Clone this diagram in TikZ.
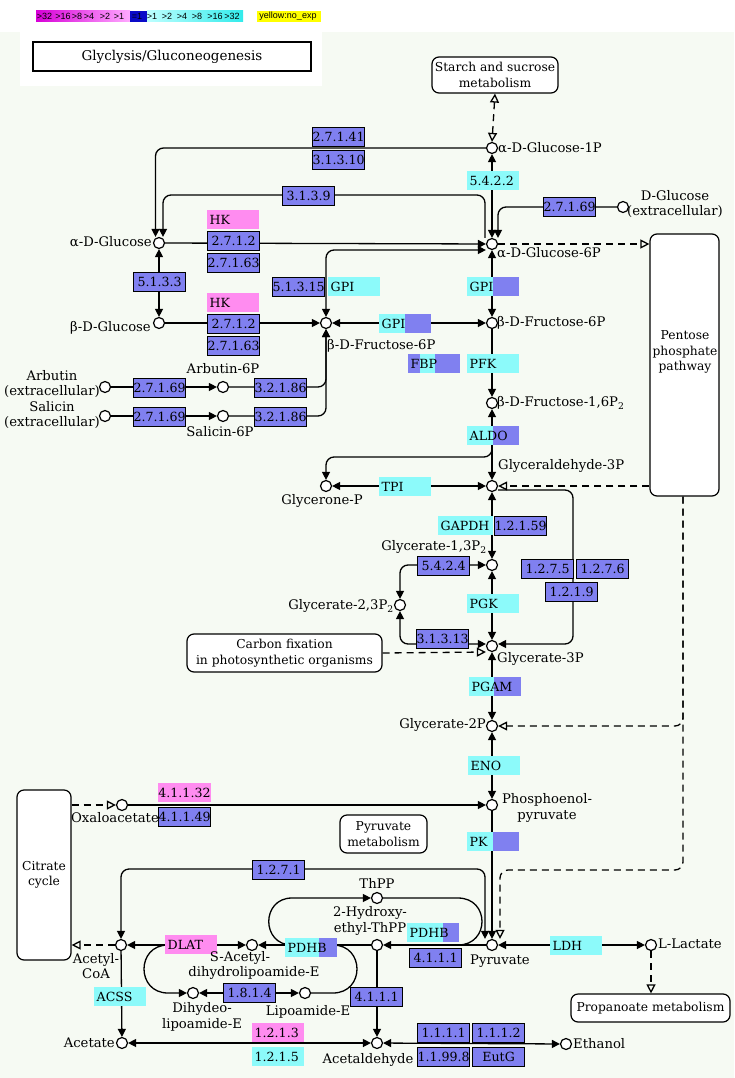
\documentclass[tikz,border=0pt]{standalone}
\usepackage{fontspec}
\setmainfont{DejaVu Serif}
\newfontfamily\legfont{Liberation Sans}
\usetikzlibrary{arrows.meta}
\definecolor{kblue}{RGB}{128,128,240}
\definecolor{kcyan}{RGB}{140,250,250}
\definecolor{kpink}{RGB}{255,140,240}
\definecolor{kbg}{RGB}{246,250,243}
\definecolor{legm1}{RGB}{215,0,215}
\definecolor{legm2}{RGB}{255,170,255}
\definecolor{legdb}{RGB}{10,10,200}
\definecolor{legc1}{RGB}{190,255,255}
\definecolor{legc2}{RGB}{50,235,235}
\definecolor{kyellow}{RGB}{255,255,0}
\newcommand\cfont{\fontsize{13.2}{15.8}\selectfont}
\newcommand\mfont{\fontsize{12.3}{15.5}\selectfont}
\newcommand\efont{\fontsize{12.6}{14}\selectfont}
\newcommand\tfont{\fontsize{13.5}{16}\selectfont}
\tikzset{
  ktip/.tip={Triangle[length=8pt,width=8pt]},
  otip/.tip={Triangle[open,length=9pt,width=9pt]},
  rxn/.style={line width=1.3pt, rounded corners=8pt},
  crv/.style={line width=1.3pt},
  dsh/.style={line width=1.3pt, dash pattern=on 7pt off 5pt, rounded corners=8pt},
  cpd/.style={circle, draw, fill=white, line width=1.2pt, minimum size=11pt, inner sep=0pt},
  enz/.style={draw, fill=kblue, line width=1.2pt, minimum width=52pt, minimum height=19pt, inner sep=0pt, anchor=north west, font=\efont},
  gtxt/.style={anchor=west, inner xsep=2.5pt, inner ysep=0pt, font=\efont},
  lbl/.style={inner sep=0pt, font=\cfont},
  map/.style={draw, rounded corners=7pt, line width=1.2pt, fill=white, align=center, font=\mfont, inner sep=0pt},
  legt/.style={inner sep=0pt, font=\legfont\fontsize{9}{10}\selectfont},
}
\newcommand\kebox[4]{\node[enz] (#1) at (#2,#3) {#4};}
\newcommand\kgbox[5]{\fill[#4] (#2,#3) rectangle ++(52,19); \node[gtxt] (#1) at (#2,#3+9.5) {#5};}
\newcommand\kgsplit[5]{\fill[kcyan] (#2,#3) rectangle ++(#4,19); \fill[kblue] (#2+#4,#3) rectangle (#2+52,#3+19); \node[gtxt] (#1) at (#2,#3+9.5) {#5};}
\begin{document}
\begin{tikzpicture}[x=1pt,y=-1pt]
\useasboundingbox (0,0) rectangle (734,1078);
\fill[kbg] (0,32) rectangle (734,1078);
\fill[white] (20,32) rectangle (322,86);
% legend
\shade[left color=legm1, right color=legm2] (36,11) rectangle (130,22);
\fill[legdb] (130,11) rectangle (147,22);
\shade[left color=legc1, right color=legc2] (147,11) rectangle (243,22);
\fill[kyellow] (257,11) rectangle (321,22);
\foreach \t/\x [count=\i] in {>32/44.5,>16/63,>8/77,>4/89,>2/105,>1/119,=1/137,>1/152,>2/167,>4/182,>8/197,>16/215,>32/232}
  \node[legt] (lg\i) at (\x,16.5) {\t};
\node[legt] (lgy) at (288,16.5) {yellow:no\_exp};
% title
\node[draw, line width=1.2pt, minimum width=278pt, minimum height=29pt, inner sep=0pt, font=\tfont] (title) at (172,56.5) {Glyclysis/Gluconeogenesis};
% maps
\node[map, minimum width=126pt, minimum height=36pt] (m_starch) at (495,75) {Starch and sucrose\\metabolism};
\node[map, minimum width=69pt, minimum height=262pt] (m_ppp) at (684.5,365) {};
\node[lbl, align=center, font=\mfont] (t_ppp) at (685,352) {Pentose\\phosphate\\pathway};
\node[map, minimum width=195pt, minimum height=38pt] (m_carbon) at (284.5,653) {Carbon fixation\\in photosynthetic organisms};
\node[map, minimum width=54pt, minimum height=170pt] (m_citrate) at (44,875) {Citrate\\cycle};
\node[map, minimum width=87pt, minimum height=38pt] (m_pyrmet) at (383.5,834) {Pyruvate\\metabolism};
\node[map, minimum width=159pt, minimum height=28pt] (m_propan) at (650.5,1008) {Propanoate metabolism};
% compounds
\node[cpd] (c_g1p) at (492,148) {};
\node[cpd] (c_g6p) at (492,244) {};
\node[cpd] (c_dglc) at (623,207) {};
\node[cpd] (c_aglc) at (159,243) {};
\node[cpd] (c_bglc) at (159,323) {};
\node[cpd] (c_bf6pL) at (326,323) {};
\node[cpd] (c_bf6p) at (492,323) {};
\node[cpd] (c_fbp) at (492,403) {};
\node[cpd] (c_g3p) at (492,486) {};
\node[cpd] (c_dhap) at (326,486) {};
\node[cpd] (c_13bpg) at (492,565) {};
\node[cpd] (c_23bpg) at (400,605) {};
\node[cpd] (c_3pg) at (492,646) {};
\node[cpd] (c_2pg) at (492,726) {};
\node[cpd] (c_pep) at (492,805) {};
\node[cpd] (c_pyr) at (492,945) {};
\node[cpd] (c_oaa) at (122,805) {};
\node[cpd] (c_accoa) at (121,945) {};
\node[cpd] (c_sacetyl) at (252,945) {};
\node[cpd] (c_hethpp) at (377,945) {};
\node[cpd] (c_thpp) at (377,898) {};
\node[cpd] (c_dihydro) at (193,993) {};
\node[cpd] (c_lipo) at (305,993) {};
\node[cpd] (c_acetate) at (122,1043) {};
\node[cpd] (c_acald) at (377,1043) {};
\node[cpd] (c_ethanol) at (566,1044) {};
\node[cpd] (c_lac) at (651,945) {};
\node[cpd] (c_arb) at (105,387) {};
\node[cpd] (c_arb6p) at (223,387) {};
\node[cpd] (c_sal) at (105,416) {};
\node[cpd] (c_sal6p) at (223,416) {};
% helper coordinates
\coordinate (k3139) at (163,195);
\coordinate (kfbp) at (435,367);
\coordinate (aldobr) at (492,445);
\coordinate (k573) at (573,560);
\coordinate (kppp) at (683,870);
\coordinate (k1271) at (485,869);
\coordinate (kl1) at (292,945);
\coordinate (kr1) at (458,945);
\coordinate (kl2) at (168,945);
\coordinate (kr2) at (333,945);
% connectors
\draw[dsh,otip-otip] (m_starch.south) -- (c_g1p.north);
\draw[rxn,ktip-ktip] (c_g1p) -- (c_g6p);
\draw[rxn,-ktip] (c_dglc.west) -| ([xshift=6pt]c_g6p.north);
\draw[rxn,-ktip] (c_g1p.west) -| ([xshift=-3.5pt]c_aglc.north);
\draw[rxn,-ktip] ([xshift=-7pt]c_g6p.north) |- (k3139) -- ([xshift=4pt]c_aglc.north);
\draw[rxn,-ktip] (c_aglc) -- (c_g6p);
\draw[rxn,ktip-ktip] (c_bf6pL.north) |- ([yshift=-6pt]c_g6p.west);
\draw[rxn,ktip-ktip] (c_aglc) -- (c_bglc);
\draw[rxn,-ktip] (c_bglc) -- (c_bf6pL);
\draw[rxn,ktip-ktip] (c_bf6pL) -- (c_bf6p);
\draw[rxn,ktip-ktip] (c_g6p) -- (c_bf6p);
\draw[rxn,-ktip] (c_bf6p) -- (c_fbp);
\draw[rxn,-ktip] (c_arb) -- (c_arb6p);
\draw[rxn,-ktip] (c_sal) -- (c_sal6p);
\draw[rxn,-ktip] (c_arb6p) -| (c_bf6pL.south);
\draw[rxn,-ktip] (c_sal6p) -| (c_bf6pL.south);
\draw[rxn,ktip-ktip] (c_fbp) -- (c_g3p);
\draw[rxn,-ktip] (aldobr) -- ++(0,12) -| (c_dhap.north);
\draw[rxn,ktip-ktip] (c_dhap) -- (c_g3p);
\draw[dsh,-otip] (m_ppp.west |- c_g3p) -- (c_g3p);
\draw[dsh,-otip] (c_g6p) -- (m_ppp.west |- c_g6p);
\draw[rxn,ktip-ktip] (c_g3p) -- (c_13bpg);
\draw[rxn,ktip-ktip] (c_23bpg.north) |- (c_13bpg.west);
\draw[rxn,ktip-ktip] (c_23bpg.south) |- ([yshift=2pt]c_3pg.west);
\draw[rxn,ktip-ktip] (c_13bpg) -- (c_3pg);
\draw[rxn,-ktip] ([yshift=-4pt]c_g3p.east) -| (k573) |- ([yshift=2pt]c_3pg.east);
\draw[dsh,-otip] (m_carbon.east) -- ([yshift=-6pt]c_3pg.west);
\draw[rxn,ktip-ktip] (c_3pg) -- (c_2pg);
\draw[dsh,-otip] ([xshift=-1.5pt]m_ppp.south) |- (c_2pg.east);
\draw[dsh,-otip] ([xshift=-1.5pt]m_ppp.south) -- (kppp) -| ([xshift=8pt]c_pyr.north);
\draw[rxn,ktip-ktip] (c_2pg) -- (c_pep);
\draw[rxn,-ktip] (c_pep) -- (c_pyr);
\draw[rxn,-ktip] (c_oaa) -- (c_pep);
\draw[dsh,-otip] (m_citrate.east |- c_oaa) -- (c_oaa);
\draw[dsh,-otip] (c_accoa) -- (m_citrate.east |- c_accoa);
\draw[rxn,ktip-ktip] (c_accoa.north) |- (k1271) -- ([xshift=-7pt]c_pyr.north);
\draw[rxn,ktip-ktip] (c_accoa) -- (c_sacetyl);
\draw[rxn,-ktip] (c_hethpp) -- (c_sacetyl);
\draw[rxn,-ktip] (c_pyr) -- (c_hethpp);
\draw[crv,-ktip] (kl1) .. controls (261,945) and (261,898) .. (292,898) -- (c_thpp);
\draw[crv] (c_thpp) -- (458,898) .. controls (490,898) and (490,945) .. (kr1);
\draw[crv,-ktip] (kl2) .. controls (136,945) and (136,993) .. (168,993) -- (c_dihydro);
\draw[crv] (c_lipo) -- (333,993) .. controls (365,993) and (365,945) .. (kr2);
\draw[rxn,ktip-ktip] (c_dihydro) -- (c_lipo);
\draw[rxn,-ktip] (c_accoa) -- (c_acetate);
\draw[rxn,ktip-ktip] (c_acetate) -- (c_acald);
\draw[rxn,-ktip] (c_hethpp) -- (c_acald);
\draw[rxn,ktip-ktip] (c_acald) -- (c_ethanol);
\draw[rxn,ktip-ktip] (c_pyr) -- (c_lac);
\draw[dsh,-otip] (c_lac) -- (c_lac |- m_propan.north);
% enzyme boxes
\kebox{e_27141}{312}{127}{2.7.1.41}
\kebox{e_31310}{312}{150}{3.1.3.10}
\kebox{e_3139}{282}{186}{3.1.3.9}
\kebox{e_27169d}{543}{197}{2.7.1.69}
\kebox{e_2712a}{207}{231}{2.7.1.2}
\kebox{e_27163a}{207}{253}{2.7.1.63}
\kebox{e_5133}{133}{272}{5.1.3.3}
\kebox{e_51315}{272}{277}{5.1.3.15}
\kebox{e_2712b}{207}{314}{2.7.1.2}
\kebox{e_27163b}{207}{336}{2.7.1.63}
\kebox{e_27169a}{133}{378}{2.7.1.69}
\kebox{e_32186a}{254}{378}{3.2.1.86}
\kebox{e_27169s}{133}{407}{2.7.1.69}
\kebox{e_32186s}{254}{407}{3.2.1.86}
\kebox{e_12159}{494}{516}{1.2.1.59}
\kebox{e_5424}{417}{556}{5.4.2.4}
\kebox{e_12175}{521}{559}{1.2.7.5}
\kebox{e_12176}{576}{559}{1.2.7.6}
\kebox{e_1219}{545}{582}{1.2.1.9}
\kebox{e_31313}{416}{629}{3.1.3.13}
\kebox{e_41149}{158}{807}{4.1.1.49}
\kebox{e_1271}{252}{860}{1.2.7.1}
\kebox{e_4111a}{409}{948}{4.1.1.1}
\kebox{e_4111b}{350}{987}{4.1.1.1}
\kebox{e_1814}{223}{983}{1.8.1.4}
\kebox{e_1111}{417}{1023}{1.1.1.1}
\kebox{e_1112}{472}{1023}{1.1.1.2}
\kebox{e_11998}{417}{1047}{1.1.99.8}
\kebox{e_eutg}{472}{1047}{EutG}
% gene boxes
\kgbox{g_5422}{467}{171}{kcyan}{5.4.2.2}
\kgbox{g_hka}{207}{210}{kpink}{HK}
\kgbox{g_hkb}{207}{293}{kpink}{HK}
\kgbox{g_gpi1}{328}{277}{kcyan}{GPI}
\kgsplit{g_gpi2}{379}{314}{26}{GPI}
\kgsplit{g_gpi3}{467}{277}{26}{GPI}
\fill[kblue] (408,354) rectangle (460,373);
\fill[kcyan] (420,354) rectangle (435,373);
\node[gtxt] (g_fbp) at (408,363.5) {FBP};
\kgbox{g_pfk}{467}{354}{kcyan}{PFK}
\kgsplit{g_aldo}{467}{426}{26}{ALDO}
\kgbox{g_tpi}{379}{477}{kcyan}{TPI}
\fill[kcyan] (438,516) rectangle (493,535);
\node[gtxt] (g_gapdh) at (438,525.5) {GAPDH};
\kgbox{g_pgk}{467}{594}{kcyan}{PGK}
\kgsplit{g_pgam}{469}{677}{25}{PGAM}
\kgbox{g_eno}{468}{756}{kcyan}{ENO}
\kgsplit{g_pk}{467}{832}{26}{PK}
\fill[kpink] (158,783) rectangle (211,802);
\node[gtxt, anchor=center, inner xsep=0pt] (g_41132) at (184.5,792.5) {4.1.1.32};
\kgbox{g_dlat}{165}{935}{kpink}{DLAT}
\kgsplit{g_pdhb1}{285}{938}{34}{PDHB}
\kgsplit{g_pdhb2}{407}{923}{36}{PDHB}
\kgbox{g_acss}{94}{987}{kcyan}{ACSS}
\kgbox{g_1213}{252}{1023}{kpink}{1.2.1.3}
\kgbox{g_1215}{252}{1047}{kcyan}{1.2.1.5}
\kgbox{g_ldh}{550}{936}{kcyan}{LDH}
% compound labels
\node[lbl,anchor=west] (t_g1p) at (498,148) {α-D-Glucose-1P};
\node[lbl,anchor=west] (t_g6p) at (497,253) {α-D-Glucose-6P};
\node[lbl,align=center] (t_dglc) at (675,204) {D-Glucose\\(extracellular)};
\node[lbl,anchor=east] (t_aglc) at (152,242) {α-D-Glucose};
\node[lbl,anchor=east] (t_bglc) at (151,328) {β-D-Glucose};
\node[lbl,anchor=west] (t_bf6pL) at (327,346) {β-D-Fructose-6P};
\node[lbl,anchor=west] (t_bf6p) at (497,323) {β-D-Fructose-6P};
\node[lbl,anchor=west] (t_fbp) at (497,403) {β-D-Fructose-1,6P\textsubscript{2}};
\node[lbl,anchor=west] (t_g3p) at (498,466) {Glyceraldehyde-3P};
\node[lbl] (t_dhap) at (322,501) {Glycerone-P};
\node[lbl] (t_13bpg) at (434,547) {Glycerate-1,3P\textsubscript{2}};
\node[lbl,anchor=east] (t_23bpg) at (394,606) {Glycerate-2,3P\textsubscript{2}};
\node[lbl,anchor=west] (t_3pg) at (497,659) {Glycerate-3P};
\node[lbl,anchor=east] (t_2pg) at (486,725) {Glycerate-2P};
\node[lbl,align=center] (t_pep) at (547,808) {Phosphoenol-\\pyruvate};
\node[lbl] (t_pyr) at (500,961) {Pyruvate};
\node[lbl] (t_oaa) at (115,818) {Oxaloacetate};
\node[lbl,align=center] (t_accoa) at (96,966) {Acetyl-\\CoA};
\node[lbl] (t_sac1) at (240,958) {S-Acetyl-};
\node[lbl] (t_sac2) at (254,973) {dihydrolipoamide-E};
\node[lbl,align=center] (t_dihydro) at (202,1017) {Dihydeo-\\lipoamide-E};
\node[lbl] (t_lipo) at (308,1012) {Lipoamide-E};
\node[lbl,anchor=east] (t_acetate) at (115,1043) {Acetate};
\node[lbl] (t_acald) at (368,1060) {Acetaldehyde};
\node[lbl,anchor=west] (t_ethanol) at (573,1044) {Ethanol};
\node[lbl,anchor=west] (t_lac) at (658,944) {L-Lactate};
\node[lbl,align=center] (t_hethpp) at (370,921) {2-Hydroxy-\\ethyl-ThPP};
\node[lbl] (t_thpp) at (377,883) {ThPP};
\node[lbl,align=center] (t_arb) at (52,384) {Arbutin\\(extracellular)};
\node[lbl,align=center] (t_sal) at (52,415) {Salicin\\(extracellular)};
\node[lbl] (t_arb6p) at (223,369) {Arbutin-6P};
\node[lbl] (t_sal6p) at (220,432) {Salicin-6P};
\end{tikzpicture}
\end{document}
